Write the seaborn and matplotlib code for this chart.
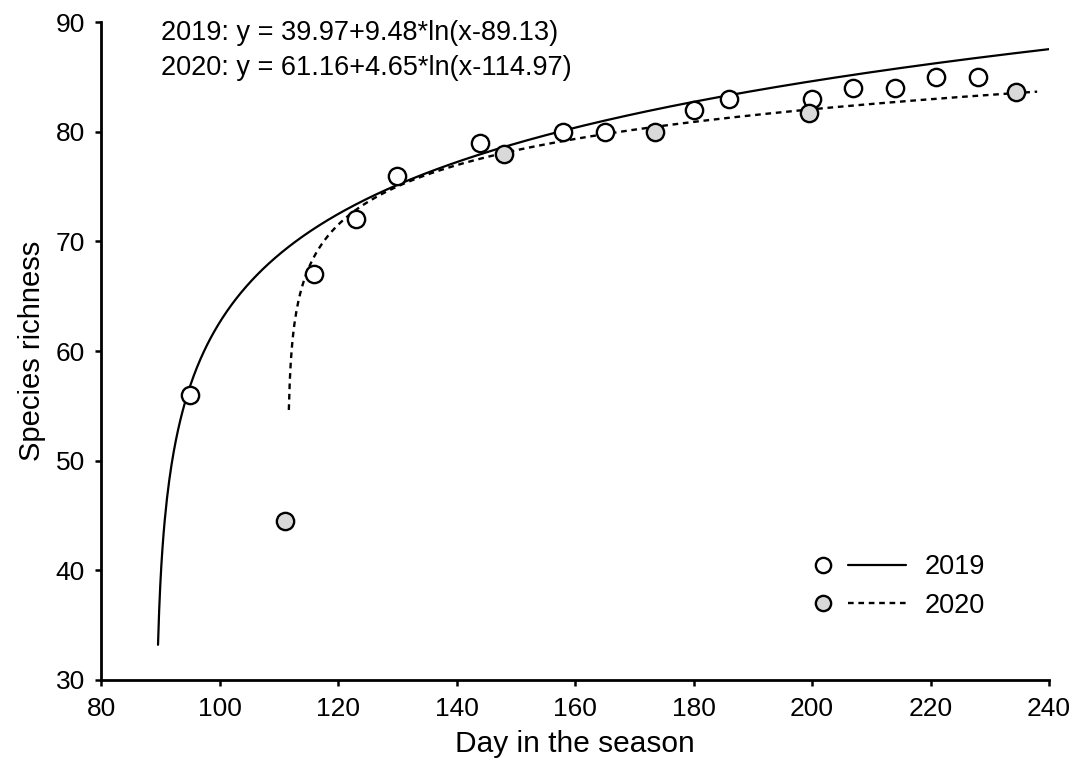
import numpy as np
import pandas as pd
import matplotlib
matplotlib.use("Agg")
import matplotlib.pyplot as plt
import seaborn as sns
from matplotlib.lines import Line2D
from matplotlib.legend_handler import HandlerTuple

# ---- data ----
days_2019 = [95, 116, 123, 130, 144, 158, 165, 180, 186, 200, 207, 214, 221, 228]
rich_2019 = [56, 67, 72, 76, 79, 80, 80, 82, 83, 83, 84, 84, 85, 85]
days_2020 = [111, 148, 173.5, 199.5, 234.5]
rich_2020 = [44.5, 78, 80, 81.7, 83.6]

# fitted logarithmic curves y = a + b*ln(x - c), drawn over [x_start, x_end]
fit_2019 = dict(a=39.97, b=9.48, c=89.13, x_start=89.62, x_end=240)
fit_2020 = dict(a=61.87, b=4.5, c=111.5, x_start=111.7, x_end=238)

eq_labels = ["2019: y = 39.97+9.48*ln(x-89.13)",
             "2020: y = 61.16+4.65*ln(x-114.97)"]
series_labels = ["2019", "2020"]
x_ticks = [80, 100, 120, 140, 160, 180, 200, 220, 240]
y_ticks = [30, 40, 50, 60, 70, 80, 90]

sns.set_theme(style="ticks")
plt.rcParams["font.family"] = ["Liberation Sans", "DejaVu Sans"]
plt.rcParams["text.color"] = "black"
plt.rcParams["axes.labelcolor"] = "black"
plt.rcParams["xtick.color"] = "black"
plt.rcParams["ytick.color"] = "black"
plt.rcParams["axes.edgecolor"] = "black"

fig = plt.figure(figsize=(10.77, 7.70), dpi=100)
ax = fig.add_axes([0.0938, 0.1169, 0.8802, 0.8545])


def curve(p):
    xs = np.linspace(p["x_start"], p["x_end"], 800)
    return pd.DataFrame({"x": xs, "y": p["a"] + p["b"] * np.log(xs - p["c"])})


c19 = curve(fit_2019)
c20 = curve(fit_2020)
sns.lineplot(data=c19, x="x", y="y", ax=ax, color="black", lw=1.6, zorder=2,
             estimator=None, sort=False)
sns.lineplot(data=c20, x="x", y="y", ax=ax, color="black", lw=1.7, zorder=2,
             estimator=None, sort=False)
ax.lines[-1].set_dashes((2.4, 2.0))

df19 = pd.DataFrame({"x": days_2019, "y": rich_2019})
df20 = pd.DataFrame({"x": days_2020, "y": rich_2020})
sns.scatterplot(data=df19, x="x", y="y", ax=ax, s=155, facecolor="white",
                edgecolor="black", linewidth=1.7, zorder=3)
sns.scatterplot(data=df20, x="x", y="y", ax=ax, s=155, facecolor="#d9d9d9",
                edgecolor="black", linewidth=1.7, zorder=3)

ax.set_xlim(80, 240)
ax.set_ylim(30, 90)
ax.set_xticks(x_ticks)
ax.set_yticks(y_ticks)
ax.tick_params(axis="both", labelsize=19, width=1.8, length=4.5,
               direction="out", colors="black")
ax.tick_params(axis="x", pad=8)
ax.tick_params(axis="y", pad=7)
for side in ["top", "right"]:
    ax.spines[side].set_visible(False)
for side in ["left", "bottom"]:
    ax.spines[side].set_linewidth(2.0)
    ax.spines[side].set_color("black")

ax.set_xlabel("Day in the season", fontsize=21.5, labelpad=6)
ax.set_ylabel("Species richness", fontsize=21, labelpad=7)

ax.text(0.063, 0.983, eq_labels[0], transform=ax.transAxes, fontsize=19.5,
        va="center", ha="left", color="black")
ax.text(0.063, 0.930, eq_labels[1], transform=ax.transAxes, fontsize=19.5,
        va="center", ha="left", color="black")

# legend: marker, line, label
m19 = Line2D([], [], ls="none", marker="o", ms=11, mfc="white", mec="black", mew=1.7)
m20 = Line2D([], [], ls="none", marker="o", ms=11, mfc="#d9d9d9", mec="black", mew=1.7)
l19 = Line2D([], [], color="black", lw=1.6)
l20 = Line2D([], [], color="black", lw=1.7, dashes=(2.4, 2.0))
fs = 19.5
fpx = fs * 100 / 72
leg = ax.legend([(m19, l19), (m20, l20)], series_labels,
                handler_map={tuple: HandlerTuple(ndivide=None, pad=-4 / fpx)},
                loc="center left", bbox_to_anchor=(0.731, 0.142),
                frameon=False, fontsize=fs, handlelength=112 / fpx,
                handletextpad=19 / fpx, labelspacing=0.45, borderpad=0,
                borderaxespad=0)
for t in leg.get_texts():
    t.set_color("black")

fig.savefig("out.png", dpi=100)
